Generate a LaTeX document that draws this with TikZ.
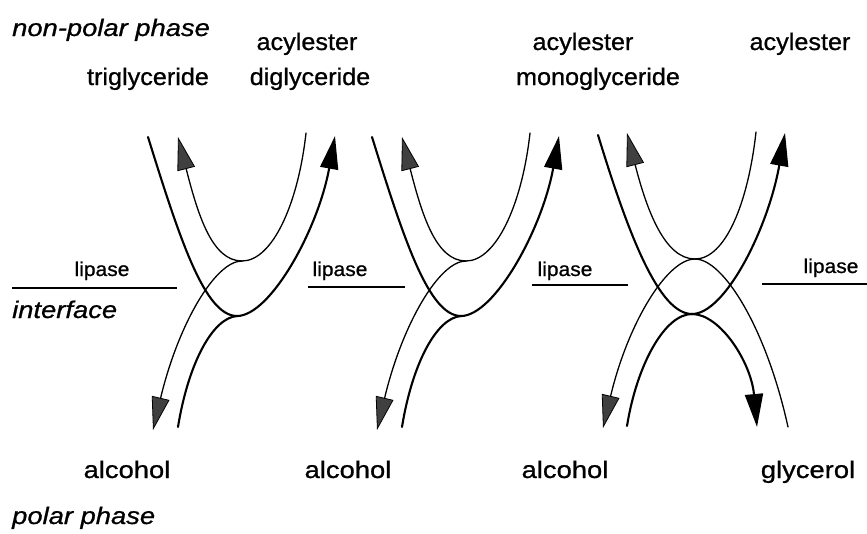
\documentclass[tikz,border=0pt]{standalone}
\usepackage{fontspec}
\usepackage{graphicx}
\setmainfont{Liberation Sans}[FakeBold=0.8]
\usetikzlibrary{arrows.meta}
\newcommand{\sx}[1]{\scalebox{1.05}[1]{#1}}
\newcommand{\sxb}[1]{\scalebox{1.14}[1]{#1}}
\begin{document}
\begin{tikzpicture}[x=1pt,y=-1pt,
  lbl/.style={font=\fontsize{24}{27}\selectfont, anchor=base, inner sep=0pt},
  itl/.style={font=\fontsize{24}{27}\selectfont\itshape, anchor=base west, inner sep=0pt},
  lip/.style={font=\fontsize{20}{22}\selectfont, anchor=base, inner sep=0pt},
  thinln/.style={line width=1.3pt, line cap=round},
  thickln/.style={line width=2.1pt, line cap=round},
  GT/.tip={Triangle[length=33pt,width=18pt,fill=black!75,color=black,line width=0.8pt]},
  KT/.tip={Triangle[length=33pt,width=18pt,fill=black]}
]
\useasboundingbox (0,0) rectangle (867,533);

% ---------- panel 1 ----------
\coordinate (a1) at (148,137);
\coordinate (j1) at (237,316);
\coordinate (k1) at (335,136);
\coordinate (g1) at (178,137);
\coordinate (u1) at (242,261);
\coordinate (t1) at (306,133);
\coordinate (h1) at (153,430);
\coordinate (b1) at (178,427);
\draw[thickln] (a1) .. controls +(32,103) and +(-32,0) .. (j1);
\draw[thickln,-KT] (j1) .. controls +(33,0) and +(-17,94) .. (k1);
\draw[thinln,GT-] (g1) .. controls +(20,78) and +(-30,0) .. (u1);
\draw[thinln] (u1) .. controls +(30,0) and +(-8,72) .. (t1);
\draw[thinln,-GT] (u1) .. controls +(-27,0) and +(25,-105) .. (h1);
\draw[thickln] (j1) .. controls +(-25,2) and +(10,-62) .. (b1);

% ---------- panel 2 ----------
\begin{scope}[xshift=224]
\coordinate (a2) at (148,137);
\coordinate (j2) at (237,316);
\coordinate (k2) at (335,136);
\coordinate (g2) at (178,137);
\coordinate (u2) at (242,261);
\coordinate (t2) at (306,133);
\coordinate (h2) at (153,430);
\coordinate (b2) at (178,427);
\end{scope}
\draw[thickln] (a2) .. controls +(32,103) and +(-32,0) .. (j2);
\draw[thickln,-KT] (j2) .. controls +(33,0) and +(-17,94) .. (k2);
\draw[thinln,GT-] (g2) .. controls +(20,78) and +(-30,0) .. (u2);
\draw[thinln] (u2) .. controls +(30,0) and +(-8,72) .. (t2);
\draw[thinln,-GT] (u2) .. controls +(-27,0) and +(25,-105) .. (h2);
\draw[thickln] (j2) .. controls +(-25,2) and +(10,-62) .. (b2);

% ---------- panel 3 ----------
\coordinate (a3) at (598,135);
\coordinate (j3) at (692,314);
\coordinate (k3) at (785,133);
\coordinate (g3) at (627,133);
\coordinate (u3) at (695,259);
\coordinate (t3) at (756,132);
\coordinate (h3) at (603,428);
\coordinate (r3) at (788,427);
\coordinate (b3) at (627,426);
\coordinate (m3) at (757,427);
\draw[thickln] (a3) .. controls +(32,105) and +(-32,0) .. (j3);
\draw[thickln,-KT] (j3) .. controls +(33,0) and +(-17,96) .. (k3);
\draw[thinln,GT-] (g3) .. controls +(20,78) and +(-30,0) .. (u3);
\draw[thinln] (u3) .. controls +(30,0) and +(-8,72) .. (t3);
\draw[thinln,-GT] (u3) .. controls +(-28,0) and +(25,-105) .. (h3);
\draw[thinln] (u3) .. controls +(28,0) and +(-22,-100) .. (r3);
\draw[thickln] (j3) .. controls +(-27,0) and +(10,-62) .. (b3);
\draw[thickln,-KT] (j3) .. controls +(28,0) and +(-6,-65) .. (m3);

% ---------- interface lines ----------
\coordinate (l1a) at (12,288);  \coordinate (l1b) at (177,288);
\coordinate (l2a) at (308,287); \coordinate (l2b) at (405,287);
\coordinate (l3a) at (532,285); \coordinate (l3b) at (628,285);
\coordinate (l4a) at (762,284); \coordinate (l4b) at (867,284);
\draw[thinln,line cap=butt] (l1a) -- (l1b);
\draw[thinln,line cap=butt] (l2a) -- (l2b);
\draw[thinln,line cap=butt] (l3a) -- (l3b);
\draw[thinln,line cap=butt] (l4a) -- (l4b);

% ---------- labels ----------
\node[itl] (np) at (12,36) {\sxb{non-polar phase}};
\node[lbl] (ac1) at (307,50) {\sx{acylester}};
\node[lbl] (ac2) at (583,50) {\sx{acylester}};
\node[lbl] (ac3) at (800,50) {\sx{acylester}};
\node[lbl] (tg) at (148,85) {\sx{triglyceride}};
\node[lbl] (dg) at (310,85) {\sx{diglyceride}};
\node[lbl] (mg) at (598,85) {\sx{monoglyceride}};
\node[lip] (lp1) at (102,276) {\sx{lipase}};
\node[lip] (lp2) at (340,276) {\sx{lipase}};
\node[lip] (lp3) at (565,276) {\sx{lipase}};
\node[lip] (lp4) at (831,273) {\sx{lipase}};
\node[itl] (if) at (12,318) {\sxb{interface}};
\node[lbl] (al1) at (127,478) {\sxb{alcohol}};
\node[lbl] (al2) at (348,478) {\sxb{alcohol}};
\node[lbl] (al3) at (565,478) {\sxb{alcohol}};
\node[lbl] (gly) at (808,478) {\sxb{glycerol}};
\node[itl] (pp) at (12,524) {\sxb{polar phase}};
\end{tikzpicture}
\end{document}
